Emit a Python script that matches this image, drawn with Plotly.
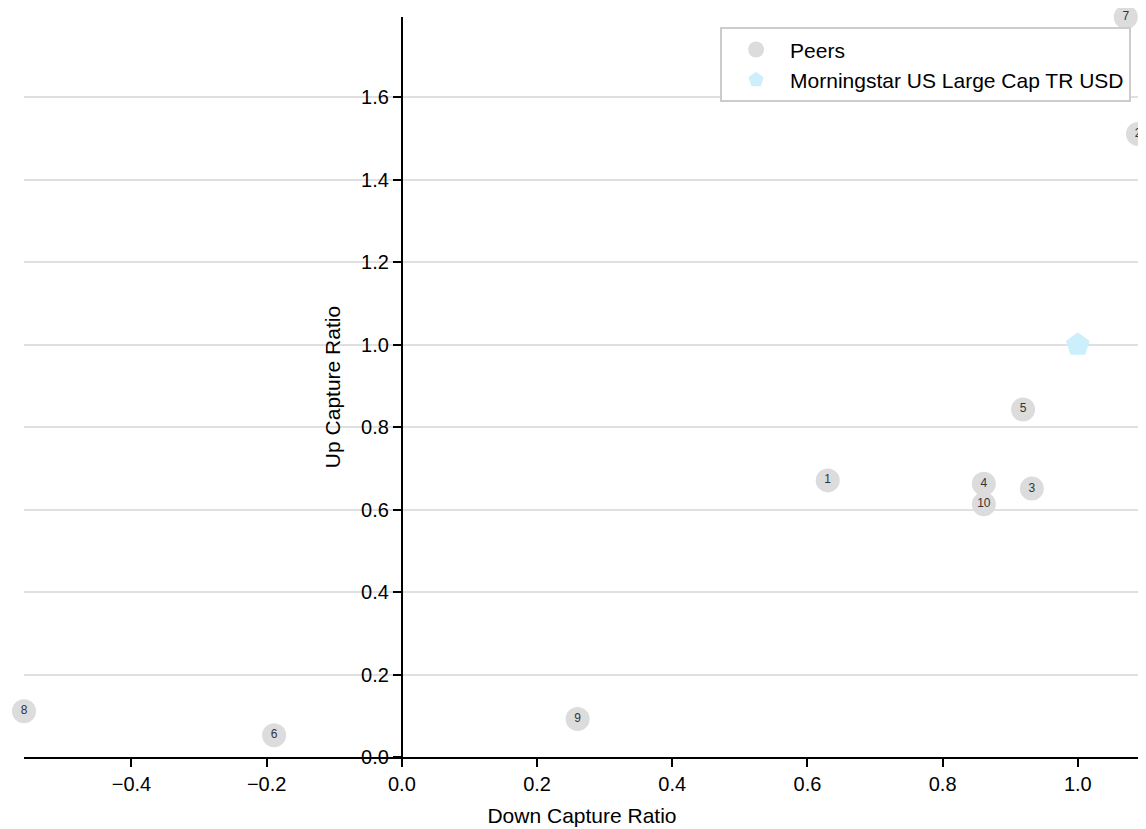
import plotly.graph_objects as go

peer_labels = ["1", "2", "3", "4", "5", "6", "7", "8", "9", "10"]
peer_down = [0.630, 1.089, 0.932, 0.861, 0.919, -0.189, 1.071, -0.559, 0.260, 0.861]
peer_up = [0.671, 1.511, 0.651, 0.663, 0.843, 0.053, 1.795, 0.111, 0.092, 0.613]

bench_name = "Morningstar US Large Cap TR USD"
bench_down = [1.0]
bench_up = [1.0]

x_range = [-0.559, 1.092]
y_range = [0.0, 1.795]

fig = go.Figure()
fig.add_trace(go.Scatter(
    x=peer_down, y=peer_up, mode="markers+text", name="Peers",
    text=peer_labels, textposition="middle center",
    textfont=dict(size=12, color="#333333", family="Liberation Sans, Arial, sans-serif"),
    marker=dict(size=24, color="#dcdcdc", line=dict(width=0)),
    cliponaxis=False,
))
fig.add_trace(go.Scatter(
    x=bench_down, y=bench_up, mode="markers", name=bench_name,
    marker=dict(size=25, color="#cdeffc", symbol="pentagon", line=dict(width=0)),
    cliponaxis=False,
))

ypos = (0 - x_range[0]) / (x_range[1] - x_range[0])

# page body has an 8px margin: shift figure so the plot area lands where the reference has it
fig.update_layout(
    width=1138, height=821,
    margin=dict(l=16, r=6, t=9, b=72),
    paper_bgcolor="white", plot_bgcolor="white",
    font=dict(family="Liberation Sans, Arial, sans-serif", size=20, color="black"),
    showlegend=True,
    legend=dict(
        x=0.992, y=0.986, xanchor="right", yanchor="top",
        bordercolor="#cccccc", borderwidth=2, bgcolor="white",
        font=dict(size=21), itemsizing="trace", itemwidth=58,
        traceorder="normal", tracegroupgap=0,
    ),
    xaxis=dict(
        range=x_range, dtick=0.2, tickformat=".1f",
        showgrid=False, zeroline=False,
        showline=True, linecolor="black", linewidth=2,
        ticks="outside", ticklen=8, tickwidth=2, tickcolor="black",
        title=dict(text="Down Capture Ratio", font=dict(size=21), standoff=14),
    ),
    yaxis=dict(
        range=y_range, dtick=0.2, tickformat=".1f",
        anchor="free", position=ypos,
        showgrid=True, gridcolor="#e0e0e0", gridwidth=1.5,
        zeroline=False,
        showline=True, linecolor="black", linewidth=2,
        ticks="outside", ticklen=8, tickwidth=2, tickcolor="black",
        title=dict(text="Up Capture Ratio", font=dict(size=21), standoff=14),
    ),
)

fig.write_html("out.html")
